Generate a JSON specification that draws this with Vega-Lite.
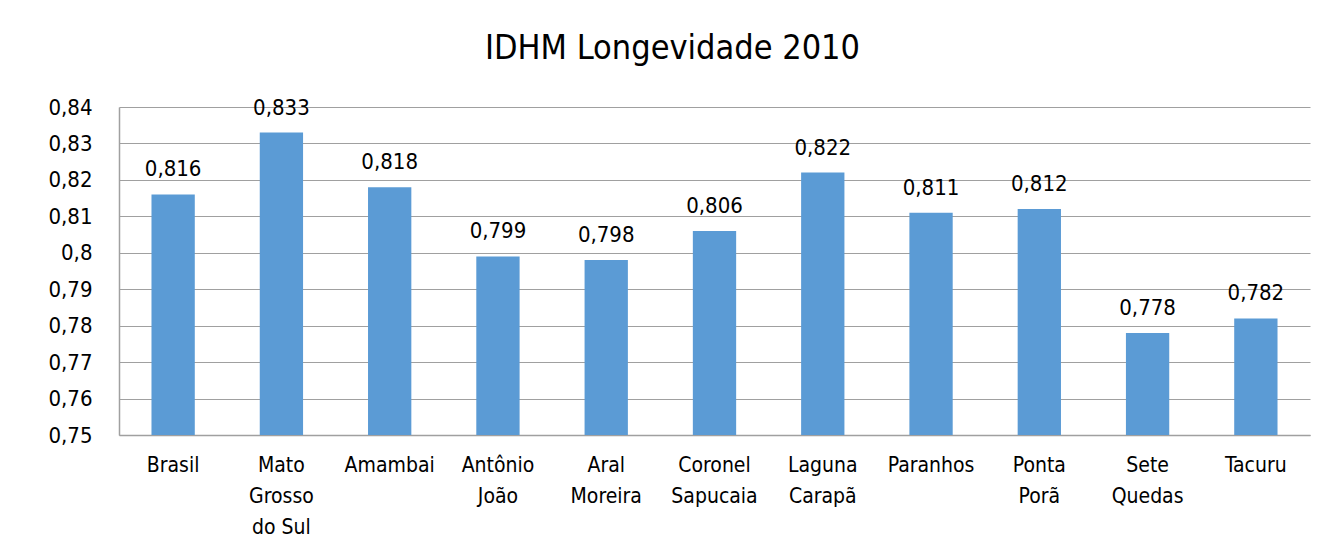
{
  "$schema": "https://vega.github.io/schema/vega-lite/v6.json",
  "autosize": "none",
  "width": 1191,
  "height": 328,
  "padding": {"left": 119, "top": 107, "right": 9, "bottom": 122},
  "background": "white",
  "title": {
    "text": "IDHM Longevidade 2010",
    "font": "DejaVu Sans Condensed, Liberation Sans",
    "fontSize": 34,
    "fontWeight": "normal",
    "color": "#000000",
    "anchor": "middle",
    "dx": -42,
    "offset": 30
  },
  "data": {
    "values": [
      {"municipio": "Brasil", "idhm": 0.816},
      {"municipio": "Mato Grosso do Sul", "idhm": 0.833},
      {"municipio": "Amambai", "idhm": 0.818},
      {"municipio": "Antônio João", "idhm": 0.799},
      {"municipio": "Aral Moreira", "idhm": 0.798},
      {"municipio": "Coronel Sapucaia", "idhm": 0.806},
      {"municipio": "Laguna Carapã", "idhm": 0.822},
      {"municipio": "Paranhos", "idhm": 0.811},
      {"municipio": "Ponta Porã", "idhm": 0.812},
      {"municipio": "Sete Quedas", "idhm": 0.778},
      {"municipio": "Tacuru", "idhm": 0.782}
    ]
  },
  "encoding": {
    "x": {
      "field": "municipio",
      "type": "nominal",
      "sort": null,
      "scale": {"paddingInner": 0.6, "paddingOuter": 0.3},
      "axis": {
        "title": null,
        "labelAngle": 0,
        "labelFont": "DejaVu Sans Condensed, Liberation Sans",
        "labelFontSize": 21,
        "labelColor": "#000000",
        "labelLineHeight": 31,
        "labelPadding": 19,
        "labelBaseline": "top",
        "labelOverlap": false,
        "labelLimit": 0,
        "ticks": false,
        "domainColor": "#A0A0A0",
        "domainWidth": 1.5,
        "labelExpr": "datum.label == 'Mato Grosso do Sul' ? ['Mato', 'Grosso', 'do Sul'] : (indexof(['Antônio João', 'Aral Moreira', 'Coronel Sapucaia', 'Laguna Carapã', 'Ponta Porã', 'Sete Quedas'], datum.label) >= 0 ? split(datum.label, ' ') : datum.label)"
      }
    },
    "y": {
      "field": "idhm",
      "type": "quantitative",
      "scale": {"domain": [0.75, 0.84], "zero": false, "nice": false},
      "axis": {
        "title": null,
        "values": [0.75, 0.76, 0.77, 0.78, 0.79, 0.8, 0.81, 0.82, 0.83, 0.84],
        "format": ".2~f",
        "ticks": false,
        "labelOverlap": false,
        "labelPadding": 27,
        "labelFont": "DejaVu Sans Condensed, Liberation Sans",
        "labelFontSize": 22,
        "labelColor": "#000000",
        "domainColor": "#A0A0A0",
        "domainWidth": 1.5,
        "gridColor": "#A0A0A0",
        "gridWidth": 1.2
      }
    }
  },
  "layer": [
    {"mark": {"type": "bar", "color": "#5B9BD5", "clip": true}},
    {
      "mark": {
        "type": "text",
        "font": "DejaVu Sans Condensed, Liberation Sans",
        "fontSize": 22,
        "color": "#000000",
        "baseline": "bottom",
        "dy": -13
      },
      "encoding": {
        "text": {"field": "idhm", "type": "quantitative", "format": ".3f"}
      }
    }
  ],
  "config": {
    "view": {"stroke": null},
    "locale": {
      "number": {"decimal": ",", "thousands": ".", "grouping": [3], "currency": ["R$", ""]}
    }
  }
}
